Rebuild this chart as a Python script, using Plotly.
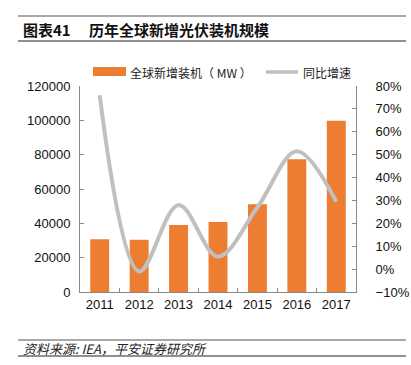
import plotly.graph_objects as go

years = ["2011", "2012", "2013", "2014", "2015", "2016", "2017"]
installed_mw = [30700, 30500, 39000, 40800, 51100, 77300, 99800]
growth = [0.76, -0.01, 0.28, 0.055, 0.27, 0.515, 0.295]

title_tag = "图表41"
title_text = "历年全球新增光伏装机规模"
bar_name = "全球新增装机（ MW ）"
line_name = "同比增速"
source_text = "资料来源: IEA，平安证券研究所"

W, H = 411, 365
L, R, T, B = 80, 356, 86, 292


def px(x):
    return (x - L) / (R - L)


def py(y):
    return (B - y) / (B - T)


FONT = "Liberation Sans, Arial, Noto Sans CJK SC, sans-serif"
CJK = "Noto Sans CJK SC, Liberation Sans, sans-serif"
ORANGE = "#ED7D31"
GRAY = "#C0C0C0"
AXIS = "#898989"

fig = go.Figure()
fig.add_trace(go.Bar(x=years, y=installed_mw, name=bar_name, marker_color=ORANGE,
                     marker_line_width=0, yaxis="y", showlegend=False, hoverinfo="skip"))
fig.add_trace(go.Scatter(x=years, y=growth, name=line_name, mode="lines",
                         line=dict(color=GRAY, width=4, shape="spline", smoothing=1.0),
                         yaxis="y2", showlegend=False, hoverinfo="skip"))

shapes = [
    dict(type="line", xref="paper", yref="paper", x0=px(18), x1=px(406), y0=py(16), y1=py(16),
         line=dict(color="#8c8c8c", width=1.5)),
    dict(type="line", xref="paper", yref="paper", x0=px(18), x1=px(406), y0=py(41), y1=py(41),
         line=dict(color="#222222", width=1)),
    dict(type="line", xref="paper", yref="paper", x0=px(18), x1=px(406), y0=py(340), y1=py(340),
         line=dict(color="#8c8c8c", width=1.5)),
    dict(type="line", xref="paper", yref="paper", x0=px(18), x1=px(406), y0=py(356), y1=py(356),
         line=dict(color="#222222", width=1)),
    # legend markers
    dict(type="rect", xref="paper", yref="paper", x0=px(93), x1=px(126), y0=py(76), y1=py(67),
         fillcolor=ORANGE, line=dict(width=0)),
    dict(type="line", xref="paper", yref="paper", x0=px(266), x1=px(298), y0=py(72), y1=py(72),
         line=dict(color=GRAY, width=3.5)),
]

annotations = [
    dict(text="<b>" + title_tag + "</b>", xref="paper", yref="paper", x=px(21), y=py(30),
         xanchor="left", yanchor="middle", showarrow=False,
         font=dict(family=CJK, size=15, color="#111111")),
    dict(text="<b>" + title_text + "</b>", xref="paper", yref="paper", x=px(87), y=py(30),
         xanchor="left", yanchor="middle", showarrow=False,
         font=dict(family=CJK, size=15, color="#111111")),
    dict(text="<i>" + source_text + "</i>", xref="paper", yref="paper", x=px(21), y=py(348),
         xanchor="left", yanchor="middle", showarrow=False,
         font=dict(family=CJK, size=13, color="#222222")),
    dict(text=bar_name, xref="paper", yref="paper", x=px(128), y=py(72),
         xanchor="left", yanchor="middle", showarrow=False,
         font=dict(family=CJK, size=12, color="#222222")),
    dict(text=line_name, xref="paper", yref="paper", x=px(301), y=py(72),
         xanchor="left", yanchor="middle", showarrow=False,
         font=dict(family=CJK, size=12, color="#222222")),
]

fig.update_layout(
    width=W, height=H,
    margin=dict(l=L, r=W - R, t=T, b=H - B, pad=0),
    paper_bgcolor="white", plot_bgcolor="white",
    bargap=0.52,
    showlegend=False,
    hovermode=False,
    font=dict(family=FONT, size=13, color="#111111"),
    xaxis=dict(type="category", showline=True, linecolor=AXIS, linewidth=1,
               ticks="inside", ticklen=4, tickcolor=AXIS, tickson="boundaries",
               showgrid=False, zeroline=False, tickfont=dict(size=13), tickangle=0,
               automargin=False, fixedrange=True),
    yaxis=dict(range=[0, 120000], dtick=20000, showline=True, linecolor=AXIS, linewidth=1,
               ticks="inside", ticklen=4, tickcolor=AXIS, showgrid=False, zeroline=False,
               tickformat="d", tickfont=dict(size=13), ticklabelstandoff=6,
               automargin=False, fixedrange=True),
    yaxis2=dict(range=[-0.1, 0.8], dtick=0.1, overlaying="y", side="right",
                showline=True, linecolor=AXIS, linewidth=1, ticks="inside", ticklen=4,
                tickcolor=AXIS, showgrid=False, zeroline=False, tickformat=".0%",
                tickfont=dict(size=13), ticklabelstandoff=16,
                automargin=False, fixedrange=True),
    shapes=shapes,
    annotations=annotations,
)

fig.write_html(
    "out.html",
    config={"displayModeBar": False, "staticPlot": True},
    post_script="document.body.style.margin='0';document.body.style.overflow='hidden';",
)
